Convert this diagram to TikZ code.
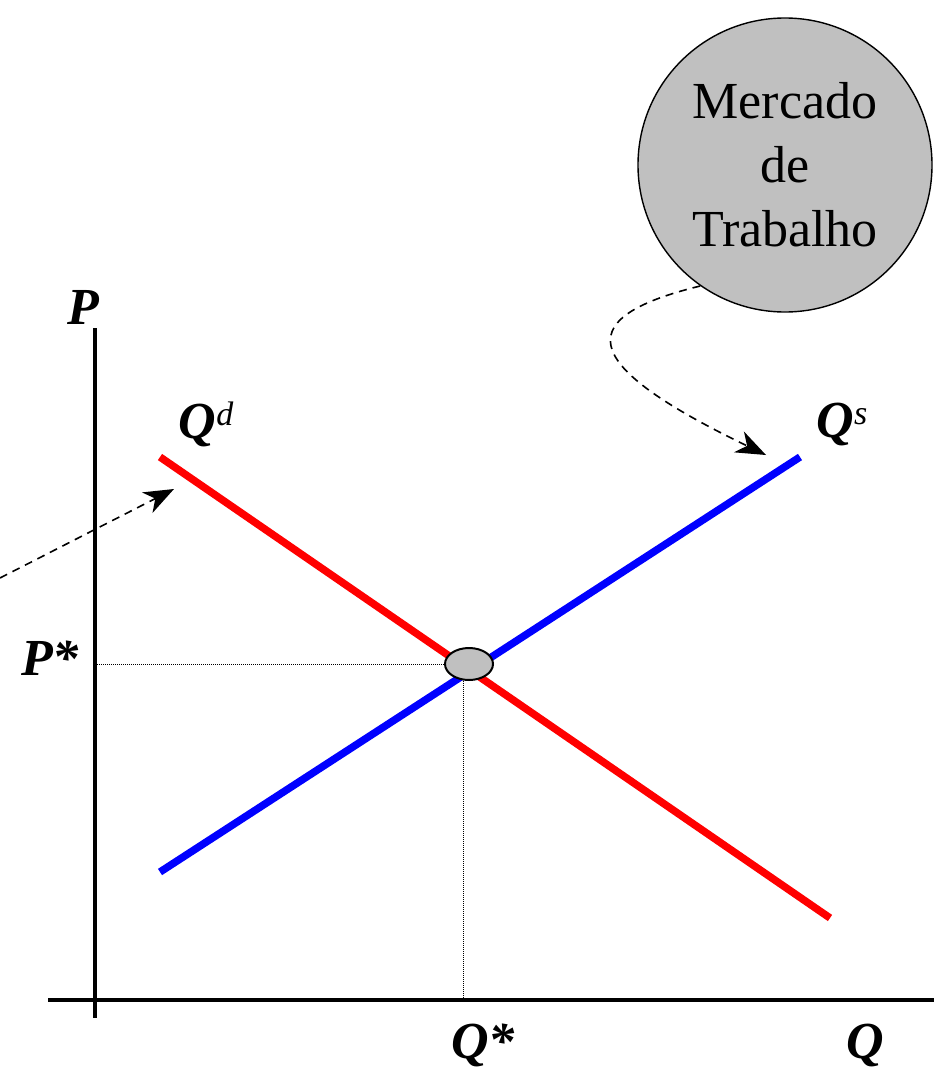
\documentclass[tikz,border=0pt]{standalone}
\usepackage{fontspec}
\setmainfont{Liberation Serif}
\usepackage{xcolor}
\usepackage{tikz}
\usetikzlibrary{arrows.meta, positioning, shapes.geometric}
\definecolor{marketgray}{RGB}{192,192,192}
\newcommand{\supidx}[1]{{\mdseries\fontsize{34}{34}\selectfont\raisebox{13pt}{#1}}}
\tikzset{
  axis/.style={line width=4.5pt},
  demand/.style={draw=red, line width=7.5pt},
  supply/.style={draw=blue, line width=7.5pt},
  guide/.style={densely dotted, line width=1pt},
  pointer/.style={-{Stealth[length=30pt, width=23pt, inset=9pt]}, dashed,
                  dash pattern=on 8pt off 6pt, line width=1.6pt},
  lbl/.style={font=\fontsize{52}{60}\selectfont\bfseries\itshape, inner sep=0pt},
  market/.style={circle, draw, fill=marketgray, line width=1.4pt,
                 minimum size=294pt, align=center, inner sep=0pt,
                 font=\fontsize{52}{64}\selectfont},
  equil/.style={ellipse, draw, fill=marketgray, line width=2pt,
                minimum width=48pt, minimum height=32pt, inner sep=0pt},
}

\begin{document}
\begin{tikzpicture}[x=1pt, y=-1pt]
  \useasboundingbox (0,0) rectangle (934,1076);

  % Axes
  \draw[axis] (95,328) -- (95,1018);
  \draw[axis] (48,1000) -- (934,1000);

  % Guides to the equilibrium
  \coordinate (eqc) at (469,664);
  \coordinate (pax) at (95,664);
  \coordinate (qax) at (463,1000);
  \draw[guide] (pax) -- (eqc);
  \draw[guide] (qax) -- (qax |- eqc);

  % Curves
  \coordinate (d1) at (160,457);
  \coordinate (d2) at (830,918);
  \coordinate (s1) at (160,872);
  \coordinate (s2) at (800,457);
  \draw[demand] (d1) -- (d2);
  \draw[supply] (s1) -- (s2);
  \node[equil] (eq) at (eqc) {};

  % Labels
  \node[lbl] (p)     at (83,307)   {P};
  \node[lbl] (pstar) at (50,658)   {P*};
  \node[lbl] (qstar) at (483,1045) {Q*};
  \node[lbl] (q)     at (865,1045) {Q};
  \node[lbl] (qd)    at (206,424)  {Q\supidx{d}};
  \node[lbl] (qs)    at (842,424)  {Q\supidx{s}};

  % Market
  \node[market] (mkt) at (785,165) {Mercado\\de\\Trabalho};

  % Arrows
  \coordinate (left) at (0,578);
  \coordinate (dtip) at (174,489);
  \coordinate (stip) at (766,455);
  \draw[pointer] (left) -- (dtip);
  \draw[pointer] (mkt.235) .. controls (560,320) and (590,370) .. (stip);
\end{tikzpicture}
\end{document}
